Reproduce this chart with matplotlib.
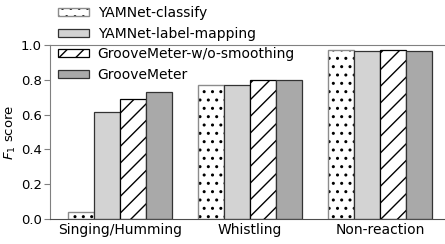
import matplotlib
matplotlib.use("Agg")
import matplotlib.pyplot as plt
from matplotlib.legend_handler import HandlerTuple
import numpy as np

categories = ["Singing/Humming", "Whistling", "Non-reaction"]
series_names = ["YAMNet-classify", "YAMNet-label-mapping",
                "GrooveMeter-w/o-smoothing", "GrooveMeter"]
yamnet_classify = [0.04, 0.77, 0.97]
yamnet_label_mapping = [0.615, 0.77, 0.963]
groovemeter_wo_smoothing = [0.69, 0.80, 0.973]
groovemeter = [0.73, 0.80, 0.968]
y_ticks = [0.0, 0.2, 0.4, 0.6, 0.8, 1.0]

series = [yamnet_classify, yamnet_label_mapping, groovemeter_wo_smoothing, groovemeter]
colors = ["white", "#d3d3d3", "white", "#a9a9a9"]
hatches = ["..", None, "//", None]
edges = ["0.55", "0.2", "black", "0.2"]

fig = plt.figure(figsize=(4.45, 2.44), dpi=100)
ax = fig.add_axes([50/445, 25/244, 395/445, 174/244])

x = np.arange(len(categories))
w = 0.2
handles = []
for i, (vals, c, h, ec) in enumerate(zip(series, colors, hatches, edges)):
    pos = x + (i - 1.5) * w
    if i == 0:
        b1 = ax.bar(pos, vals, w, color=c, edgecolor="black", linewidth=0, hatch=h)
        b2 = ax.bar(pos, vals, w, fill=False, edgecolor=ec, linewidth=1.0)
        handles.append((b1[0], b2[0]))
    else:
        b = ax.bar(pos, vals, w, color=c, edgecolor=ec, linewidth=0.9, hatch=h)
        handles.append(b[0])

ax.set_xlim(-0.54, 2.5)
ax.set_ylim(0, 1.0)
ax.set_yticks(y_ticks)
ax.set_yticklabels([f"{t:.1f}" for t in y_ticks])
ax.set_xticks(x)
ax.set_xticklabels(categories)
ax.tick_params(axis="x", length=0, labelsize=10, pad=3)
ax.tick_params(axis="y", labelsize=9.5, color="0.5", length=4, pad=2)
ax.set_ylabel("$F_1$ score", fontsize=9.5, labelpad=2)
ax.spines["right"].set_visible(False)
for s in ["left", "top", "bottom"]:
    ax.spines[s].set_color("0.5")
ax.spines["bottom"].set_color("0.3")

leg = ax.legend(handles, series_names, loc="upper left",
                bbox_to_anchor=(8/395, 1 + 39/174), frameon=False,
                fontsize=10, handlelength=2.2, handleheight=0.5,
                handletextpad=0.65, labelspacing=0.48, borderaxespad=0.0,
                borderpad=0.0, handler_map={tuple: HandlerTuple(ndivide=1, pad=0)})

fig.savefig("out.png", dpi=100)
